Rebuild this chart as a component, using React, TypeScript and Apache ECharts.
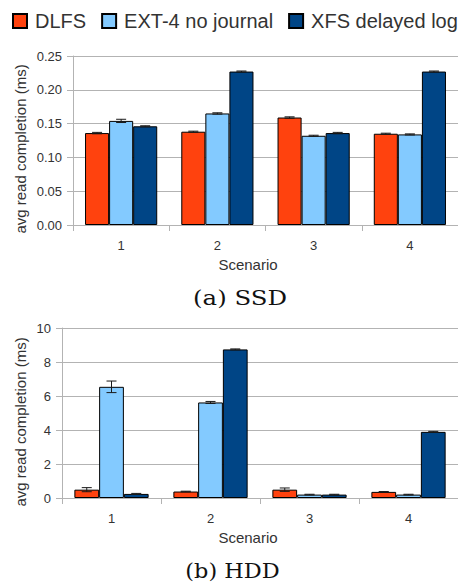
import React, { useEffect, useRef } from "react";
import * as echarts from "echarts";

const categories = ["1", "2", "3", "4"];
const seriesNames = ["DLFS", "EXT-4 no journal", "XFS delayed log"];
const yTicksSsd = [0, 0.05, 0.1, 0.15, 0.2, 0.25];
const yTicksHdd = [0, 2, 4, 6, 8, 10];

const ssdDlfs = [0.136, 0.138, 0.159, 0.135];
const ssdExt4 = [0.154, 0.165, 0.132, 0.134];
const ssdXfs = [0.146, 0.227, 0.136, 0.227];
const ssdDlfsErr = [0.001, 0.0008, 0.001, 0.0008];
const ssdExt4Err = [0.0024, 0.001, 0.0008, 0.0008];
const ssdXfsErr = [0.0008, 0.0008, 0.001, 0.0008];

const hddDlfs = [0.49, 0.38, 0.49, 0.36];
const hddExt4 = [6.54, 5.62, 0.2, 0.2];
const hddXfs = [0.24, 8.74, 0.2, 3.89];
const hddDlfsErr = [0.12, 0.02, 0.1, 0.02];
const hddExt4Err = [0.34, 0.06, 0.02, 0.02];
const hddXfsErr = [0.03, 0.03, 0.02, 0.03];

const colors = ["#ff420e", "#83caff", "#004586"];
const FONT = "'Liberation Sans', Arial, sans-serif";
const SERIF = "'DejaVu Serif', 'Liberation Serif', serif";
const GRID_COLOR = "#b3b3b3";
const TEXT_COLOR = "#333333";

function errData(groups: number[][], errs: number[][]) {
  const out: number[][] = [];
  groups.forEach((vals, s) => {
    vals.forEach((v, c) => {
      out.push([c, s, v, errs[s][c]]);
    });
  });
  return out;
}

function renderErr(params: any, api: any) {
  const cat = api.value(0);
  const s = api.value(1);
  const v = api.value(2);
  const e = api.value(3);
  const band = api.size([1, 0])[0];
  const bw = (band * 0.75) / 3;
  const center = api.coord([cat, 0])[0];
  const x = center + (s - 1) * bw;
  const top = api.coord([cat, v + e])[1];
  const bot = api.coord([cat, v - e])[1];
  const hw = 5;
  const st = { stroke: "#1a1a1a", lineWidth: 1 };
  return {
    type: "group",
    children: [
      { type: "line", shape: { x1: x, y1: top, x2: x, y2: bot }, style: st },
      { type: "line", shape: { x1: x - hw, y1: top, x2: x + hw, y2: top }, style: st },
      { type: "line", shape: { x1: x - hw, y1: bot, x2: x + hw, y2: bot }, style: st },
    ],
  };
}

export default function App() {
  const ref = useRef<HTMLDivElement>(null);
  useEffect(() => {
    if (!ref.current) return;
    const chart = echarts.init(ref.current, null, { renderer: "svg" });

    const yAxisBase = (grid: number, ticks: number[], dec: number) => ({
      type: "value",
      gridIndex: grid,
      min: ticks[0],
      max: ticks[ticks.length - 1],
      interval: ticks[1] - ticks[0],
      axisLine: { show: true, lineStyle: { color: GRID_COLOR, width: 1 } },
      axisTick: { show: true, length: 6, lineStyle: { color: GRID_COLOR } },
      splitLine: { show: true, lineStyle: { color: GRID_COLOR, width: 1 } },
      axisLabel: {
        color: TEXT_COLOR,
        fontSize: 13,
        fontFamily: FONT,
        margin: 11,
        formatter: (v: number) => v.toFixed(dec),
      },
    });
    const xAxisBase = (grid: number, margin: number) => ({
      type: "category",
      gridIndex: grid,
      data: categories,
      axisLine: { show: true, lineStyle: { color: GRID_COLOR, width: 1 } },
      axisTick: { show: true, length: 6, alignWithLabel: false, lineStyle: { color: GRID_COLOR } },
      axisLabel: { color: TEXT_COLOR, fontSize: 13, fontFamily: FONT, margin },
      splitLine: { show: false },
    });

    const bar = (name: string, idx: number, data: number[], c: string) => ({
      type: "bar",
      name,
      xAxisIndex: idx,
      yAxisIndex: idx,
      data,
      barGap: "0%",
      barCategoryGap: "25%",
      itemStyle: { color: c, borderColor: "#000", borderWidth: 1 },
      emphasis: { disabled: true },
    });

    const option: any = {
      animation: false,
      backgroundColor: "#ffffff",
      color: colors,
      legend: {
        data: seriesNames,
        left: 12,
        top: 11,
        width: 470,
        padding: 0,
        itemWidth: 14,
        itemHeight: 14,
        itemGap: 15,
        icon: "rect",
        selectedMode: false,
        textStyle: { fontSize: 20, color: TEXT_COLOR, fontFamily: FONT, padding: [0, 0, 0, 3] },
      },
      grid: [
        { left: 73, top: 56, right: -2, height: 169 },
        { left: 62, top: 328, right: -1, height: 170 },
      ],
      xAxis: [xAxisBase(0, 14), xAxisBase(1, 14)],
      yAxis: [yAxisBase(0, yTicksSsd, 2), yAxisBase(1, yTicksHdd, 0)],
      series: [
        bar(seriesNames[0], 0, ssdDlfs, colors[0]),
        bar(seriesNames[1], 0, ssdExt4, colors[1]),
        bar(seriesNames[2], 0, ssdXfs, colors[2]),
        bar(seriesNames[0], 1, hddDlfs, colors[0]),
        bar(seriesNames[1], 1, hddExt4, colors[1]),
        bar(seriesNames[2], 1, hddXfs, colors[2]),
        {
          type: "custom",
          name: "ssd-err",
          xAxisIndex: 0,
          yAxisIndex: 0,
          z: 5,
          renderItem: renderErr,
          encode: { x: 0, y: 2 },
          data: errData([ssdDlfs, ssdExt4, ssdXfs], [ssdDlfsErr, ssdExt4Err, ssdXfsErr]),
        },
        {
          type: "custom",
          name: "hdd-err",
          xAxisIndex: 1,
          yAxisIndex: 1,
          z: 5,
          renderItem: renderErr,
          encode: { x: 0, y: 2 },
          data: errData([hddDlfs, hddExt4, hddXfs], [hddDlfsErr, hddExt4Err, hddXfsErr]),
        },
      ],
      graphic: [
        {
          type: "text", x: 20, y: 149, rotation: Math.PI / 2,
          style: { text: "avg read completion (ms)", fontSize: 15, fontFamily: FONT, fill: TEXT_COLOR, align: "center", verticalAlign: "middle" },
        },
        {
          type: "text", x: 20, y: 422, rotation: Math.PI / 2,
          style: { text: "avg read completion (ms)", fontSize: 15, fontFamily: FONT, fill: TEXT_COLOR, align: "center", verticalAlign: "middle" },
        },
        {
          type: "text", x: 248, y: 264,
          style: { text: "Scenario", fontSize: 15, fontFamily: FONT, fill: TEXT_COLOR, align: "center", verticalAlign: "middle" },
        },
        {
          type: "text", x: 248, y: 537,
          style: { text: "Scenario", fontSize: 15, fontFamily: FONT, fill: TEXT_COLOR, align: "center", verticalAlign: "middle" },
        },
        {
          type: "text", x: 240, y: 298, scaleX: 1.22,
          style: { text: "(a) SSD", fontSize: 20, fontFamily: SERIF, fill: "#111", align: "center", verticalAlign: "middle" },
        },
        {
          type: "text", x: 232.5, y: 571, scaleX: 1.12,
          style: { text: "(b) HDD", fontSize: 20, fontFamily: SERIF, fill: "#111", align: "center", verticalAlign: "middle" },
        },
      ],
    };
    chart.setOption(option);
    return () => chart.dispose();
  }, []);
  return (
    <div
      ref={ref}
      style={{ position: "absolute", left: 0, top: 0, width: 458, height: 583, background: "#fff" }}
    />
  );
}
